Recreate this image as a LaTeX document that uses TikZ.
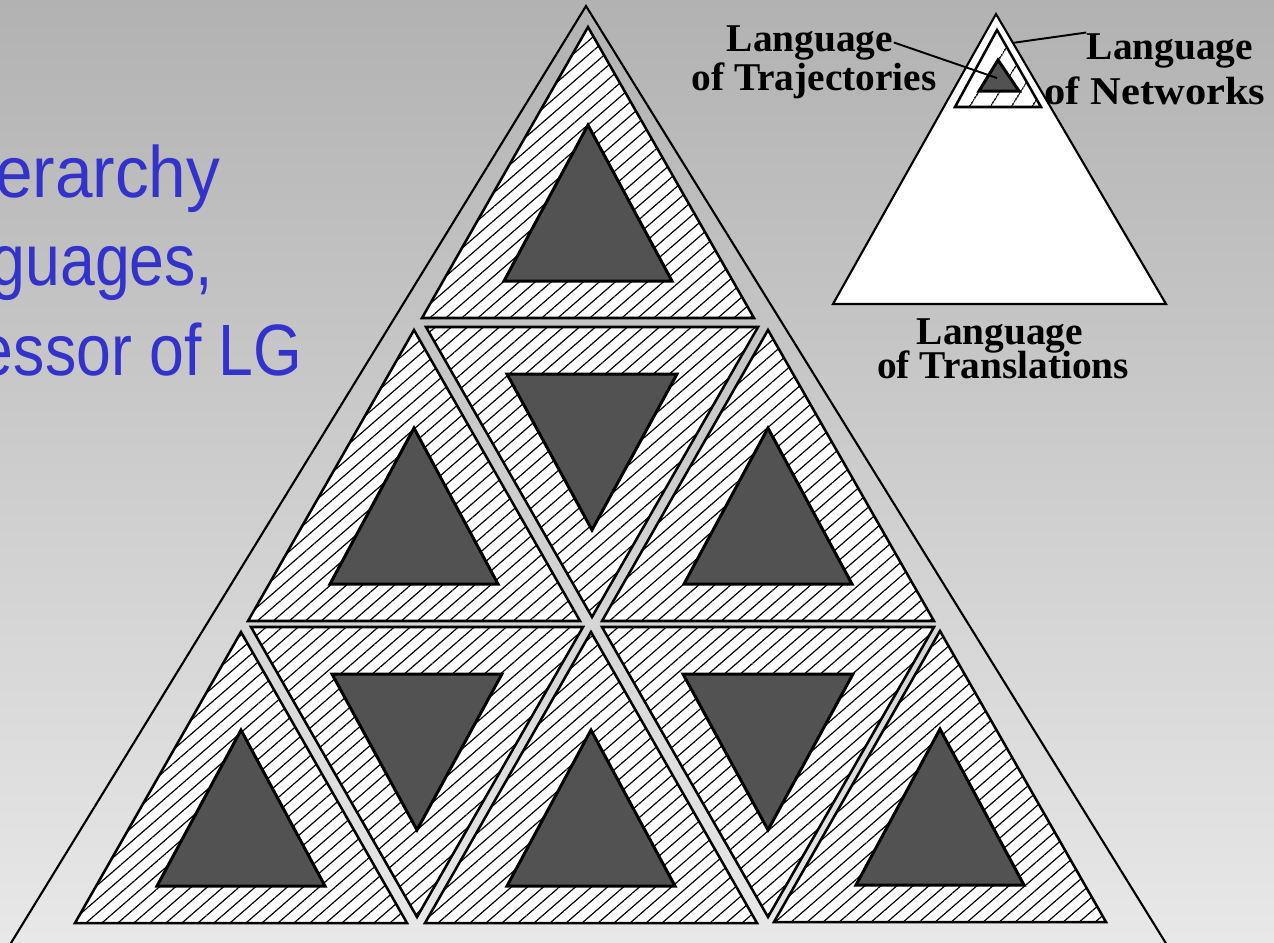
\documentclass[tikz,border=0pt]{standalone}
\usepackage{fontspec}
\usetikzlibrary{arrows.meta,calc,positioning,patterns.meta}
\setmainfont{Liberation Serif}
\newfontfamily\slidefont{Liberation Sans}
\definecolor{titlecol}{RGB}{51,51,204}
\definecolor{bgtop}{RGB}{178,178,178}
\definecolor{bgbot}{RGB}{232,232,232}
\definecolor{corecol}{RGB}{82,82,82}
\tikzset{
  hatched/.style={draw,line width=0.72pt,preaction={fill=white},
    pattern={Lines[angle=41,distance=1.05mm,line width=0.34pt]}},
  hatchedwide/.style={draw,line width=0.72pt,preaction={fill=white},
    pattern={Lines[angle=58,distance=1.8mm,line width=0.34pt]}},
  core/.style={draw,line width=0.85pt,fill=corecol},
  lbl/.style={font=\fontsize{11.2}{11}\selectfont\bfseries,inner sep=0pt,anchor=base},
  ttl/.style={font=\slidefont\fontsize{20.7}{24}\selectfont,text=titlecol,
    inner sep=0pt,anchor=base east,xscale=0.86}
}
% up cell, apex at (#1,#2)
\newcommand{\uptri}[2]{%
  \draw[hatched] (#1,#2) -- ++(-166,291) -- ++(332,0) -- cycle;
  \draw[core] (#1,#2+98) -- ++(-84,156) -- ++(168,0) -- cycle;}
% down cell, top edge centred at (#1,#2)
\newcommand{\dntri}[2]{%
  \draw[hatched] (#1-166,#2) -- ++(332,0) -- (#1,#2+290) -- cycle;
  \draw[core] (#1-85,#2+47) -- ++(170,0) -- (#1,#2+203) -- cycle;}

\begin{document}
\begin{tikzpicture}[x=0.1mm,y=-0.1mm]
\useasboundingbox (0,0) rectangle (1274,942);
\shade[top color=bgtop,bottom color=bgbot] (0,0) rectangle (1274,942);
\clip (0,0) rectangle (1274,942);
% ---- slide title, cut at the left ----
\node[ttl,xscale=1.08] (ttlone) at (221,197) {erarchy};
\node[ttl] (ttltwo) at (214,285) {guages,};
\node[ttl] (ttlthree) at (303,375) {essor of LG};
% ---- big triangle ----
\coordinate (T) at (586,6); \coordinate (L) at (-24,1000); \coordinate (R) at (1201,1000);
\draw[line width=0.6pt] (T)--(L)--(R)--cycle;
% nine cells, three rows
\uptri{588}{27}
\uptri{414}{330} \dntri{592}{327} \uptri{768}{330}
\uptri{241}{632} \dntri{417}{627} \uptri{591}{632} \dntri{768}{627} \uptri{940}{631}
% ---- inset: nested languages ----
\draw[line width=0.6pt,fill=white] (996,14) -- (833,304) -- (1166,304) -- cycle;
\draw[hatchedwide] (997,30) -- (955,107) -- (1041,107) -- cycle;
\draw[core] (998,60) -- (979,91) -- (1019,91) -- cycle;
\node[lbl] (trajtop) at (810,51) {Language};
\node[lbl] (trajbot) at (814,90) {of Trajectories};
\node[lbl] (nettop) at (1170,59) {Language};
\node[lbl,xscale=1.08] (netbot) at (1155,104) {of Networks};
\node[lbl] (trantop) at (1000,344) {Language};
\node[lbl] (tranbot) at (1003,378) {of Translations};
\coordinate (trajend) at (997,78);
\coordinate (netend) at (1012,43);
\draw[line width=0.55pt] (trajtop.east) -- (trajend);
\draw[line width=0.55pt] (nettop.north west) -- (netend);
\end{tikzpicture}
\end{document}
